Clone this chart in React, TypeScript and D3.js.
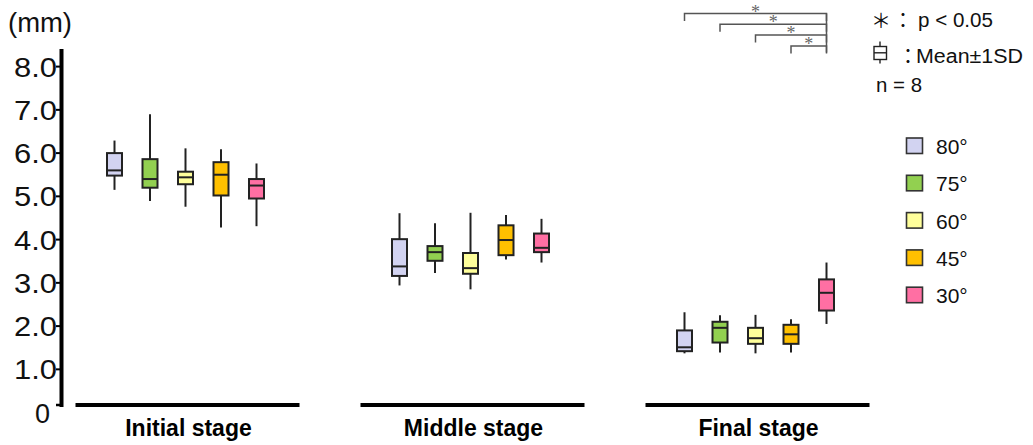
import React from 'react';
import * as d3 from 'd3';

const stages = ['Initial stage', 'Middle stage', 'Final stage'];
const angles = ['80°', '75°', '60°', '45°', '30°'];
const colors = ['#D2D3F1', '#92D050', '#FFFF9B', '#FFC000', '#FF6FA3'];

// [lower whisker, box bottom, median, box top, upper whisker] per angle
const initialStage = [
  [5.15, 5.48, 5.6, 6.0, 6.29],
  [4.89, 5.2, 5.4, 5.86, 6.9],
  [4.76, 5.28, 5.44, 5.57, 6.11],
  [4.28, 5.02, 5.5, 5.79, 6.09],
  [4.31, 4.95, 5.25, 5.4, 5.76],
];
const middleStage = [
  [2.94, 3.16, 3.38, 4.01, 4.61],
  [3.23, 3.51, 3.71, 3.85, 4.38],
  [2.85, 3.21, 3.34, 3.69, 4.62],
  [3.54, 3.64, 3.99, 4.33, 4.57],
  [3.47, 3.71, 3.81, 4.14, 4.48],
];
const finalStage = [
  [1.37, 1.42, 1.51, 1.9, 2.32],
  [1.39, 1.62, 1.96, 2.1, 2.25],
  [1.37, 1.59, 1.72, 1.96, 2.26],
  [1.39, 1.59, 1.81, 2.03, 2.16],
  [2.05, 2.36, 2.77, 3.08, 3.47],
];
const stageData = [initialStage, middleStage, finalStage];

const yTicks = [0, 1, 2, 3, 4, 5, 6, 7, 8];
// significant pairs in the final stage: from each angle to 30°
const sigPairs = [['80°', '30°'], ['75°', '30°'], ['60°', '30°'], ['45°', '30°']];

const sans = '"Liberation Sans", Arial, sans-serif';
const cjk = '"Noto Sans CJK JP", sans-serif';

export default function App() {
  const width = 1033;
  const height = 445;

  const y = d3.scaleLinear().domain([0, 8]).range([412.6, 66.6]);
  const xStage = d3.scalePoint<string>().domain(stages).range([185.5, 755.5]);
  const xAngle = d3.scalePoint<string>().domain(angles).range([-71, 71]);
  const boxW = 15;
  const axisX = 61.5;
  const baseY = 405;
  const ink = '#222';

  const finalX = (a: string) => (xStage('Final stage') as number) + (xAngle(a) as number);

  return (
    <svg
      width={width}
      height={height}
      style={{ position: 'absolute', left: 0, top: 0, background: '#fff' }}
      fontFamily={sans}
    >
      {/* unit */}
      <text x={8} y={32} fontSize={27} fill="#111" textLength={64} lengthAdjust="spacingAndGlyphs">(mm)</text>

      {/* y axis */}
      <line x1={axisX} x2={axisX} y1={49} y2={baseY + 2} stroke="#000" strokeWidth={4} />
      <line x1={56} x2={axisX} y1={baseY} y2={baseY} stroke="#000" strokeWidth={2.5} />
      {yTicks.filter(t => t > 0).map(t => (
        <line key={t} x1={56} x2={axisX} y1={y(t)} y2={y(t)} stroke="#000" strokeWidth={2} />
      ))}
      {yTicks.map(t => (
        <text
          key={'l' + t}
          x={t === 0 ? 50 : 57}
          y={y(t) + 3}
          fontSize={27}
          textAnchor="end"
          dominantBaseline="middle"
          fill="#111"
          textLength={t === 0 ? undefined : 43}
          lengthAdjust="spacingAndGlyphs"
        >
          {t === 0 ? '0' : d3.format('.1f')(t)}
        </text>
      ))}

      {/* stage baselines and labels */}
      {stages.map(s => {
        const cx = xStage(s) as number;
        return (
          <g key={s}>
            <line x1={cx - 110} x2={cx + 114} y1={baseY} y2={baseY} stroke="#000" strokeWidth={4} />
            <text x={cx + 3} y={436} fontSize={23} fontWeight="bold" textAnchor="middle" fill="#000">
              {s}
            </text>
          </g>
        );
      })}

      {/* box plots */}
      {stages.map((s, si) =>
        angles.map((a, ai) => {
          const [lo, q1, med, q3, hi] = stageData[si][ai];
          const cx = (xStage(s) as number) + (xAngle(a) as number);
          return (
            <g key={s + a}>
              <line x1={cx} x2={cx} y1={y(hi)} y2={y(lo)} stroke={ink} strokeWidth={2} />
              <rect
                x={cx - boxW / 2}
                y={y(q3)}
                width={boxW}
                height={y(q1) - y(q3)}
                fill={colors[ai]}
                stroke={ink}
                strokeWidth={2}
              />
              <line x1={cx - boxW / 2} x2={cx + boxW / 2} y1={y(med)} y2={y(med)} stroke={ink} strokeWidth={2} />
            </g>
          );
        })
      )}

      {/* significance brackets */}
      {sigPairs.map(([a, b], i) => {
        const x1 = finalX(a);
        const x2 = finalX(b);
        const ly = 13.5 + i * 10.8;
        return (
          <g key={a + b} stroke="#555" strokeWidth={1.5} fill="none">
            <path d={`M${x1},${ly + 7.5} V${ly} H${x2} V${ly + 7.5}`} />
            <text
              x={(x1 + x2) / 2}
              y={ly + 4}
              fontSize={18}
              fontFamily='"Liberation Serif", serif'
              textAnchor="middle"
              fill="#666"
              stroke="none"
            >
              *
            </text>
          </g>
        );
      })}
      <line x1={finalX('30°')} x2={finalX('30°')} y1={13.5} y2={52.5} stroke="#555" strokeWidth={1.5} />

      {/* notes */}
      <text x={881} y={28} fontSize={20} textAnchor="middle" fontFamily={cjk} fill="#111">＊</text>
      <text x={903} y={28} fontSize={20} textAnchor="middle" fontFamily={cjk} fill="#111">：</text>
      <text x={918} y={27} fontSize={20} fill="#111" textLength={75} lengthAdjust="spacingAndGlyphs">p &lt; 0.05</text>

      <g stroke={ink} strokeWidth={1.4} fill="none">
        <line x1={880} x2={880} y1={41.5} y2={63.5} />
        <rect x={874} y={46.5} width={12.5} height={13} fill="#fff" />
        <line x1={874} x2={886.5} y1={52.8} y2={52.8} />
      </g>
      <text x={908} y={64} fontSize={20} textAnchor="middle" fontFamily={cjk} fill="#111">：</text>
      <text x={916} y={63} fontSize={20} fill="#111" textLength={107} lengthAdjust="spacingAndGlyphs">Mean±1SD</text>

      <text x={876} y={92} fontSize={20} fill="#111" textLength={46} lengthAdjust="spacingAndGlyphs">n = 8</text>

      {/* legend */}
      {angles.map((a, i) => {
        const ty = 138 + i * 37.3;
        return (
          <g key={'lg' + a}>
            <rect x={906.5} y={ty} width={16} height={15.5} fill={colors[i]} stroke="#333" strokeWidth={1.6} />
            <text x={936} y={ty + 16} fontSize={21} fill="#111">{a}</text>
          </g>
        );
      })}
    </svg>
  );
}
